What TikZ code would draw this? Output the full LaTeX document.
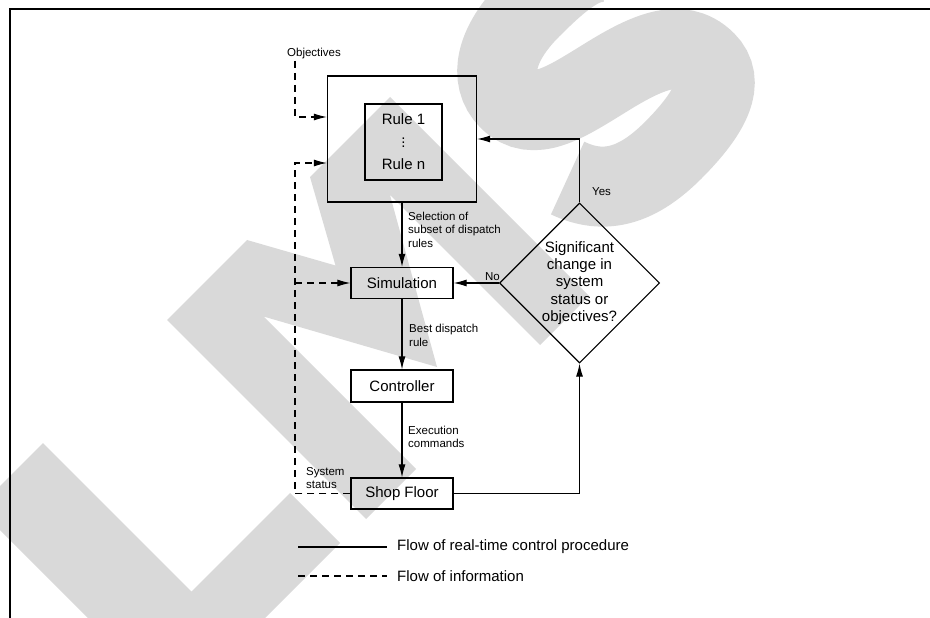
\documentclass[tikz,border=0pt]{standalone}
\usepackage{fontspec}
\setmainfont{Liberation Sans}
\usepackage{tikz}
\usetikzlibrary{arrows.meta}
\usetikzlibrary{shapes.geometric}

\definecolor{wmgray}{RGB}{217,217,217}
\newcommand{\boxfont}{\fontsize{15bp}{17.4bp}\selectfont}
\newcommand{\notefont}{\fontsize{11.5bp}{13.5bp}\selectfont}

\tikzset{
      block/.style={draw=black, line width=1.2bp, minimum width=102bp, minimum height=31bp, inner sep=0pt, font=\boxfont},
      decision/.style={draw=black, diamond, line width=1.1bp, minimum width=160bp, minimum height=160bp,
            inner sep=0pt, align=center, font=\boxfont},
      flow/.style={draw=black, line width=1.1bp, -{Latex[length=13bp, width=7bp]}},
      info/.style={draw=black, line width=1.1bp, dash pattern=on 7bp off 5bp, -{Latex[length=13bp, width=7bp]}},
      note/.style={inner sep=0pt, align=left, anchor=west, font=\notefont},
      legend/.style={inner sep=0pt, anchor=west, font=\boxfont},
      logo/.style={fill=wmgray, draw=none},
      logostroke/.style={draw=wmgray, line width=80bp},
}

\begin{document}
\begin{tikzpicture}[x=1bp, y=-1bp]
        \useasboundingbox (0,0) rectangle (930,618);

        % Grey letters behind the chart
        \begin{scope}
        \clip (0,0) rectangle (930,618);
        \fill[logo] (-22,508) -- (43,443) -- (191.5,591.5) -- (290,493) -- (340,543) -- (176.5,706.5) -- cycle;
        \fill[logo] (366,519) -- (167,320) -- (247,240) -- (335.5,265.5) -- (310,177) -- (390,97)
              -- (589,296) -- (540,345) -- (390,195) -- (437,367) -- (263.5,316.5) -- (416,469) -- cycle;
        \begin{scope}[shift={(615,265)}, rotate=45]
        \draw[logostroke] (208,-220) .. controls (195,-238) and (165,-241) .. (122,-241)
              .. controls (72,-241) and (42,-222) .. (42,-192)
              .. controls (42,-158) and (80,-150) .. (122,-140)
              .. controls (170,-129) and (208,-116) .. (208,-80)
              .. controls (208,-52) and (178,-40) .. (122,-40)
              .. controls (74,-40) and (42,-55) .. (28,-95);
        \end{scope}
        \end{scope}

        % Frame
        \draw[line width=2.5bp] (10,618) -- (10,9) -- (930,9);

        % Boxes
        \node[block, minimum width=149bp, minimum height=126bp] (dispatch) at (402,139) {};
        \node[block, minimum width=77bp, minimum height=76bp, align=center,
              font=\fontsize{15bp}{22.5bp}\selectfont] (rules) at (403.5,142) {Rule 1\\$\vdots$\\Rule n};
        \node[block] (sim) at (402,283) {Simulation};
        \node[block, minimum height=32bp] (ctrl) at (402,386) {Controller};
        \node[block] (shop) at (402,493.5) {Shop Floor};
        \node[decision] (decide) at (579.5,283) {Significant\\change in\\system\\status or\\objectives?};

        % Labels
        \node[note] (objectives) at (287,53.5) {Objectives};
        \node[note] (seltext) at (408,229.5) {Selection of\\subset of dispatch\\rules};
        \node[note] (besttext) at (409,335.5) {Best dispatch\\rule};
        \node[note] (exectext) at (408,437) {Execution\\commands};
        \node[note] (systext) at (306,478) {System\\status};
        \node[note, anchor=center] (yes) at (601.5,192) {Yes};
        \node[note, anchor=center] (no) at (492.5,276.5) {No};

        % Control procedure
        \draw[flow] (dispatch.south) -- (sim.north);
        \draw[flow] (sim.south) -- (ctrl.north);
        \draw[flow] (ctrl.south) -- (shop.north);
        \draw[flow] (shop.east) -| (decide.south);
        \draw[flow] (decide.west) -- (sim.east);
        \draw[flow] (decide.north) |- (dispatch.east);

        % Information
        \coordinate (objtop) at (295,61);
        \coordinate (sysline) at (295,300);
        \draw[info] (objtop) |- ([yshift=22bp]dispatch.west);
        \draw[info] (shop.west) -| (sysline) |- ([yshift=-24bp]dispatch.west);
        \draw[info] (sysline |- sim.west) -- (sim.west);

        % Legend
        \coordinate (solidA) at (298,547);
        \coordinate (solidB) at (387,547);
        \coordinate (dashA) at (298,576);
        \coordinate (dashB) at (387,576);
        \draw[line width=1.1bp] (solidA) -- (solidB);
        \draw[line width=1.1bp, dash pattern=on 7bp off 5bp] (dashA) -- (dashB);
        \node[legend] (flowtext) at (397,547) {Flow of real-time control procedure};
        \node[legend] (infotext) at (397,576) {Flow of information};

\end{tikzpicture}
\end{document}
